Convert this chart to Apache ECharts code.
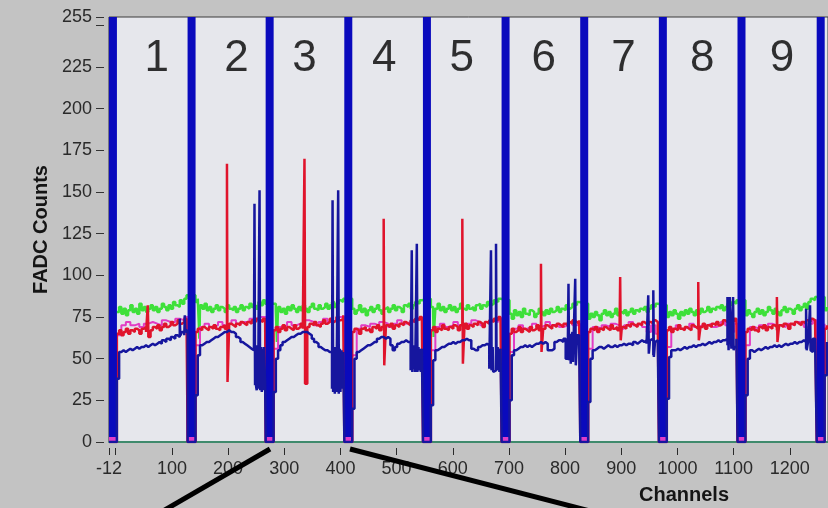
<!DOCTYPE html>
<html>
<head>
<meta charset="utf-8">
<script src="https://cdn.jsdelivr.net/npm/echarts@6/dist/echarts.min.js"></script>
<style>
  html, body { margin: 0; padding: 0; background: #c3c3c3; }
  #chart { width: 828px; height: 508px; }
</style>
</head>
<body>
<div id="chart"></div>
<script>
// ---- axis ticks and labels ----
const xTickValues = [-12, 0, 100, 200, 300, 400, 500, 600, 700, 800, 900, 1000, 1100, 1200];
const xLabelValues = [-12, 100, 200, 300, 400, 500, 600, 700, 800, 900, 1000, 1100, 1200];
const yTickValues = [0, 25, 50, 75, 100, 125, 150, 175, 200, 225, 250, 255];
const yLabelValues = [0, 25, 50, 75, 100, 125, 150, 175, 200, 225, 255];

// ---- frame markers (saturated separator between readout frames) ----
const markerChannels = [-5, 135, 274, 414, 554, 694, 834, 974, 1114, 1255];
const markerLevel = 255;
const markerFoot = 3;                   // magenta reading at the foot of each marker
const markerHalfWidth = 7;              // channels each side of a marker that read zero
const frameStart = [2, 142, 281, 421, 561, 701, 841, 981, 1121, 1262];
const frameNames = ['1', '2', '3', '4', '5', '6', '7', '8', '9'];
const frameLabelChannels = [73, 215, 336, 478, 616, 762, 904, 1044, 1186];
const frameLabelLevel = 230;

// ---- sampled traces: one row per frame, sampled every `step` channels ----
const greenStep = 4;
const green = [
  [78,81,77,80,76,79,82,78,80,77,83,79,81,78,80,82,79,81,78,80,83,81,79,82,80,84,82,81,85,83,86,88],
  [84,86,82,80,83,79,81,78,80,82,79,81,80,78,82,80,79,81,78,80,82,79,81,80,83,81,82,80,84,82,85,83],
  [83,79,81,78,80,77,81,79,82,80,78,81,79,82,80,78,81,83,80,79,82,80,81,83,80,82,84,81,83,85,84,86],
  [80,77,79,82,78,80,76,79,81,78,80,82,79,77,80,81,78,80,82,79,81,80,78,82,81,83,80,82,84,83,85,86],
  [81,78,80,83,79,81,78,80,82,79,81,78,80,83,80,79,82,80,81,79,82,83,80,82,81,84,82,83,85,84,86,85],
  [77,74,79,76,78,75,80,77,76,79,78,75,77,80,78,76,79,77,80,78,79,81,78,80,79,82,80,81,83,82,84,83],
  [74,77,75,78,76,73,77,79,76,78,75,77,80,76,78,77,79,76,78,80,77,79,78,80,79,81,78,80,82,81,83,82],
  [75,78,76,79,77,74,78,76,79,77,80,78,76,79,77,80,78,79,81,78,80,79,81,80,82,79,81,83,82,84,83,85],
  [76,79,77,75,78,80,77,79,76,78,81,79,77,80,78,76,79,81,78,80,79,77,80,82,79,81,83,80,84,86,85,87],
  [79,81]
];
const greenDips = [[149,62],[287,60],[566,63]];

const redStep = 4;
const red = [
  [65,67,64,66,68,65,67,66,68,67,65,68,69,66,68,67,69,68,70,67,69,71,69,70,72,70,71,73,71,72,74,73],
  [66,68,67,69,68,67,69,68,70,68,67,69,70,68,69,71,70,69,71,70,72,71,70,72,71,73,72,74,73,72,74,75],
  [67,69,66,68,70,67,69,68,67,70,68,69,71,68,70,69,71,70,72,70,69,71,73,71,72,74,72,73,75,73,74,76],
  [66,68,67,65,68,69,67,68,66,69,68,70,67,69,68,70,69,71,68,70,69,71,70,72,71,70,73,72,74,73,75,74],
  [67,69,66,68,67,70,68,67,69,68,70,69,67,70,69,71,68,70,69,71,70,72,71,69,72,71,73,72,74,73,75,74],
  [65,68,66,67,69,66,68,67,66,69,67,68,70,67,69,68,70,69,68,70,69,71,70,69,71,70,72,71,73,72,71,73],
  [66,68,67,69,66,68,67,69,68,67,70,68,69,67,70,69,68,70,69,71,70,69,71,70,72,71,70,72,71,73,72,71],
  [67,69,66,68,67,70,68,67,69,68,67,70,69,68,70,69,71,68,70,69,71,70,72,70,71,73,72,71,73,72,74,73],
  [66,68,67,69,67,66,69,68,70,67,69,68,70,69,67,70,69,71,70,68,71,70,72,71,70,72,71,73,72,74,73,72],
  [68,70]
];
// single-channel pulses on the red trace: [channel, value]
const redSpikes = [
  [57,82],[58,63],[198,167],[199,36],[336,170],[337,35],[477,134],[478,46],
  [617,134],[618,47],[757,107],[758,54],[826,47],[898,99],[899,61],
  [1037,96],[1038,61],[1177,87],[1178,60]
];

const magentaStep = 8;
const magenta = [
  [64,70,72,70,71,69,71,72,71,70,73,72,72,74,73,75],
  [58,69,71,69,70,72,70,71,73,71,72,72,74,73,75,75],
  [56,69,70,72,70,71,71,73,72,70,72,74,72,73,75,75],
  [52,68,70,69,71,70,72,71,69,71,73,71,72,72,74,74],
  [55,69,71,69,70,72,70,71,71,73,72,70,72,73,72,74],
  [54,68,70,68,69,71,69,70,72,70,71,69,70,72,70,71],
  [56,69,68,70,69,71,70,68,70,72,70,71,69,66,70,65],
  [57,68,70,68,69,71,69,70,70,71,69,70,72,70,66,71],
  [58,69,68,70,69,71,70,70,69,71,70,72,71,69,71,73],
  [71]
];

const blueStep = 4;
const blue = [
  [38,54,55,54,55,56,55,56,57,56,57,57,58,57,58,59,58,59,60,59,61,60,62,61,63,62,64,63,65,66,64,67],
  [28,52,58,59,60,60,61,62,63,63,64,65,66,66,67,66,66,65,63,62,60,59,58,57,56,55,55,33,56,32,55,34],
  [30,50,55,58,60,61,62,63,63,64,65,65,66,66,66,65,64,62,60,59,57,56,55,55,54,54,32,56,30,55,31,54],
  [20,50,54,55,56,57,58,58,59,60,60,62,63,63,62,63,62,58,55,57,59,60,60,61,60,60,43,57,42,58,43,56],
  [22,49,55,56,57,57,58,59,59,60,59,60,60,61,61,62,61,61,56,55,55,57,58,58,59,58,44,57,43,58,43,56],
  [25,52,55,56,57,57,58,57,58,57,58,59,59,60,59,60,59,55,55,56,60,61,61,60,62,50,64,48,66,47,62,60],
  [24,50,55,56,57,57,56,57,58,57,57,58,57,58,58,59,58,59,59,58,60,59,60,61,60,61,59,53,62,52,61,62],
  [26,51,55,55,56,55,56,57,56,57,57,58,57,58,58,59,58,59,60,59,60,60,61,60,61,61,62,58,56,60,57,62],
  [28,50,55,54,55,56,55,56,57,56,57,57,58,57,58,57,58,59,58,59,59,60,59,60,60,61,60,56,61,55,62,61],
  [40,60]
];
// pulse bursts on the blue trace near the end of each frame: [channel, value]
const blueBursts = [
  [114,74],[115,64],[123,76],[124,66],
  [247,143],[248,34],[249,57],[251,31],[252,58],[253,32],[256,151],[257,31],[259,57],[260,30],[261,56],[263,31],[264,57],
  [386,145],[387,30],[388,56],[390,29],[391,57],[394,31],[396,151],[397,29],[399,56],[400,30],[402,55],[403,32],
  [527,115],[528,42],[530,44],[531,58],[536,119],[537,42],[539,57],[540,43],[542,56],[543,42],
  [668,115],[669,43],[671,57],[672,42],[677,119],[678,43],[680,57],[682,56],[683,42],
  [806,95],[807,49],[809,65],[810,47],[812,63],[814,48],[818,98],[819,46],[821,64],
  [948,88],[949,52],[951,61],[957,91],[958,51],[960,60],
  [1089,87],[1091,55],[1093,87],[1096,56],[1099,87],[1100,55],
  [1229,80],[1230,55],[1236,82],[1237,54]
];

// Expand per-frame samples into [channel, value] points, adding the
// zero reading inside each marker and any single-channel pulses.
function buildTrace(frames, step, pulses, zeroInMarkers) {
  const pts = [];
  frames.forEach(function (vals, i) {
    if (zeroInMarkers) pts.push([markerChannels[i] - markerHalfWidth, 0]);
    vals.forEach(function (v, k) { pts.push([frameStart[i] + k * step, v]); });
  });
  pulses.forEach(function (p) { pts.push(p); });
  return pts.sort(function (a, b) { return a[0] - b[0]; });
}

const font = '"Liberation Sans", Arial, Helvetica, sans-serif';
const chart = echarts.init(document.getElementById('chart'), null, { renderer: 'canvas' });

function traceSeries(name, data, color, width, z) {
  return {
    name: name, type: 'line', data: data, step: 'end', showSymbol: false, symbol: 'none',
    lineStyle: { color: color, width: width }, z: z, silent: true
  };
}

// axis line kept off the zero crossing so the offset applies; drawn invisible
const hiddenLine = { show: true, onZero: false, lineStyle: { color: 'rgba(0,0,0,0)' } };
const plain = function (v) { return String(v); };

chart.setOption({
  animation: false,
  backgroundColor: '#c3c3c3',
  grid: {
    left: 109, right: -2, top: 17, bottom: 66,
    show: true, backgroundColor: '#e6e7ec', borderColor: '#3a3a3a', borderWidth: 1
  },
  xAxis: [
    {
      type: 'value', min: -12, max: 1268, position: 'bottom', offset: 6,
      axisLine: hiddenLine, splitLine: { show: false },
      axisTick: { show: true, length: 7, customValues: xTickValues, lineStyle: { color: '#2a2a2a', width: 1 } },
      axisLabel: { customValues: xLabelValues, formatter: plain, margin: 12, color: '#2a2a2a', fontSize: 18, fontFamily: font }
    },
    {
      type: 'value', min: -12, max: 1268, position: 'bottom', offset: 0,
      axisLine: { show: true, onZero: false, lineStyle: { color: '#3f8a6c', width: 2 } },
      axisTick: { show: false }, axisLabel: { show: false }, splitLine: { show: false }
    }
  ],
  yAxis: {
    type: 'value', min: 0, max: 255, offset: 5,
    axisLine: hiddenLine, splitLine: { show: false },
    axisTick: { show: true, length: 8, customValues: yTickValues, lineStyle: { color: '#333', width: 1 } },
    axisLabel: { customValues: yLabelValues, formatter: plain, margin: 12, color: '#2a2a2a', fontSize: 18, fontFamily: font },
    name: 'FADC Counts', nameLocation: 'middle', nameRotate: 90, nameGap: 52,
    nameTextStyle: { fontWeight: 'bold', fontSize: 20, color: '#151515', fontFamily: font }
  },
  graphic: [
    { type: 'line', shape: { x1: 163, y1: 511, x2: 270, y2: 449 }, style: { stroke: '#000', lineWidth: 5 }, z: 100 },
    { type: 'line', shape: { x1: 350, y1: 449, x2: 590, y2: 511 }, style: { stroke: '#000', lineWidth: 5 }, z: 100 },
    {
      type: 'text', x: 684, y: 495, z: 100,
      style: { text: 'Channels', fontSize: 20, fontWeight: 'bold', fontFamily: font, fill: '#151515', align: 'center', verticalAlign: 'middle' }
    }
  ],
  series: [
    traceSeries('green', buildTrace(green, greenStep, greenDips, false), '#3ee03a', 2.5, 2),
    traceSeries('magenta', buildTrace(magenta, magentaStep, [], true), '#e23cc4', 2, 3),
    traceSeries('red', buildTrace(red, redStep, redSpikes, true), '#e0142c', 2.5, 4),
    {
      name: 'marker', type: 'bar', barWidth: 8, barGap: '-100%', z: 5, silent: true,
      data: markerChannels.map(function (c) { return [c, markerLevel]; }),
      itemStyle: { color: '#0a0abd' }
    },
    {
      name: 'marker foot', type: 'bar', barWidth: 8, barGap: '-100%', z: 6, silent: true,
      data: markerChannels.map(function (c) { return [c, markerFoot]; }),
      itemStyle: { color: '#e03cc8' }
    },
    traceSeries('blue', buildTrace(blue, blueStep, blueBursts, true), '#16169e', 2.5, 7),
    {
      name: 'frames', type: 'scatter', symbolSize: 1, z: 10, silent: true,
      itemStyle: { color: 'rgba(0,0,0,0)' },
      data: frameLabelChannels.map(function (c, i) {
        return { value: [c, frameLabelLevel], label: { formatter: frameNames[i] } };
      }),
      label: { show: true, position: 'inside', fontSize: 44, color: '#000', fontFamily: font }
    }
  ]
});
</script>
</body>
</html>
